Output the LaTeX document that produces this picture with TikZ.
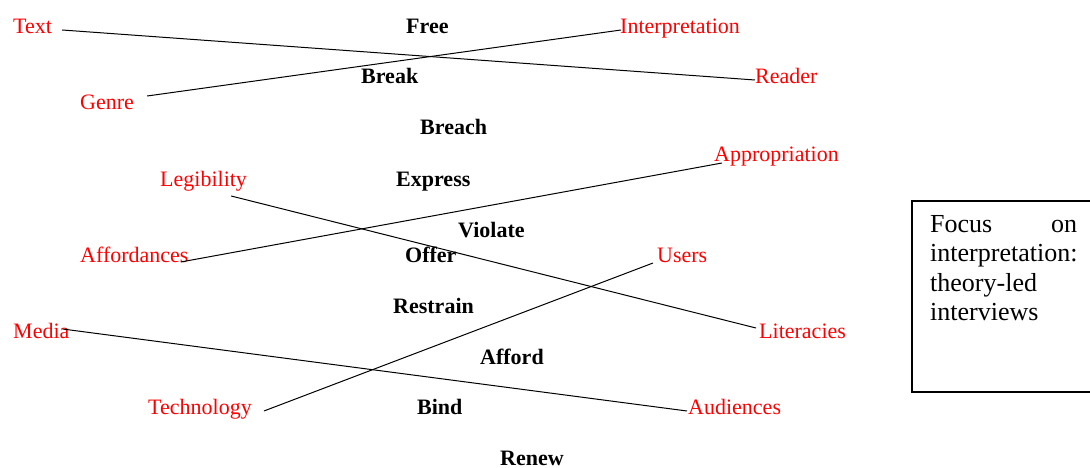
\documentclass[tikz,border=0pt]{standalone}
\usepackage{fontspec}
\setmainfont{Liberation Serif}

\tikzset{
    word/.style={anchor=base west, inner sep=0pt, font=\fontsize{22}{26}\selectfont},
    concept/.style={word, text=red},
    action/.style={word, font=\fontsize{22}{26}\selectfont\bfseries},
    link/.style={draw, line width=1pt}
}

\begin{document}
\begin{tikzpicture}[x=1pt, y=-1pt]
\useasboundingbox (0,0) rectangle (1090,468);

% verbs in the middle column
\node[action] (free)     at (406,34)  {Free};
\node[action] (break)    at (361,84)  {Break};
\node[action] (breach)   at (420,135) {Breach};
\node[action] (express)  at (396,186) {Express};
\node[action] (violate)  at (458,237) {Violate};
\node[action] (offer)    at (405,262) {Offer};
\node[action] (restrain) at (393,313) {Restrain};
\node[action] (afford)   at (480,364) {Afford};
\node[action] (bind)     at (417,414) {Bind};
\node[action] (renew)    at (500,465) {Renew};

% concepts on the left
\node[concept] (text)        at (13,34)   {Text};
\node[concept] (genre)       at (80,110)  {Genre};
\node[concept] (legibility)  at (160,186) {Legibility};
\node[concept] (affordances) at (80,262)  {Affordances};
\node[concept] (media)       at (13,338)  {Media};
\node[concept] (technology)  at (148,414) {Technology};

% concepts on the right
\node[concept] (interpretation) at (620,34)  {Interpretation};
\node[concept] (reader)         at (755,84)  {Reader};
\node[concept] (appropriation)  at (714,161) {Appropriation};
\node[concept] (users)          at (657,262) {Users};
\node[concept] (literacies)     at (759,338) {Literacies};
\node[concept] (audiences)      at (688,414) {Audiences};

% pairings
\draw[link] ([shift={(10,-4)}]text.base east) -- ([shift={(0,-4)}]reader.base west);
\draw[link] ([shift={(13,-14)}]genre.base east) -- ([shift={(1,-4)}]interpretation.base west);
\draw[link] ([shift={(-16,10)}]legibility.base east) -- ([shift={(-3,-10)}]literacies.base west);
\draw[link] ([shift={(-8,0)}]affordances.base east) -- ([shift={(8,2)}]appropriation.base west);
\draw[link] ([shift={(12,-3)}]technology.base east) -- ([shift={(-4,1)}]users.base west);
\draw[link] ([shift={(-7,-9)}]media.base east) -- ([shift={(-1,-3)}]audiences.base west);

% side note
\node[draw, line width=1.5pt, anchor=north west, inner sep=0pt,
      minimum width=190, minimum height=191] (notebox) at (911,200) {};
\node[anchor=north west, inner sep=0pt, text width=147pt, align=left,
      font=\fontsize{26}{29.5}\selectfont] (note) at (930,215)
    {\hbox to 147pt{Focus\hfill on}\\interpretation:\\theory-led\\interviews};
\end{tikzpicture}
\end{document}
